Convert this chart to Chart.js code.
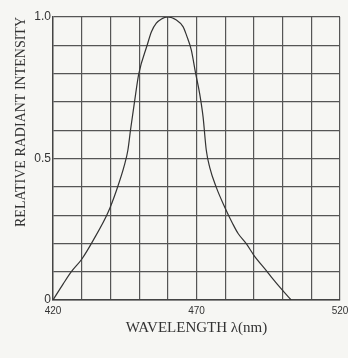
<!DOCTYPE html>
<html>
<head>
<meta charset="utf-8">
<script src="https://cdn.jsdelivr.net/npm/chart.js@4"></script>
<style>
  html, body { margin: 0; padding: 0; background: #f6f6f3; }
  canvas { display: block; }
</style>
</head>
<body>
<canvas id="grafica" width="348" height="358"></canvas>
<script>
// valores
const wavelengths = [420, 423.5, 426.4, 430, 433.9, 439.2, 442.1, 445, 446.1, 447, 448.4, 449.9, 452.8, 454.3, 456, 457.8, 460,
  463, 465.3, 466.5, 468.2, 469.6, 471.1, 472.3, 473.4, 474.6, 476.9, 479.8, 482.7, 484.5, 487.4, 490, 494.4, 496.1, 500, 503];
const intensity = [0, 0.056, 0.1, 0.144, 0.209, 0.31, 0.387, 0.481, 0.53, 0.6, 0.7, 0.8, 0.9, 0.948, 0.978, 0.993, 1.0,
  0.989, 0.966, 0.936, 0.883, 0.806, 0.729, 0.646, 0.53, 0.469, 0.398, 0.329, 0.268, 0.235, 0.198, 0.158, 0.103, 0.081, 0.034, 0];
const xTickLabels = [420, 470, 520];
const yTickLabels = { 0: '0', 0.5: '0.5', 1: '1.0' };

const fondo = {
  id: 'fondo',
  beforeDraw(chart) {
    const c = chart.ctx;
    c.save();
    c.fillStyle = '#f6f6f3';
    c.fillRect(0, 0, chart.width, chart.height);
    c.restore();
  }
};

const puntos = wavelengths.map((w, i) => ({ x: w, y: intensity[i] }));

new Chart(document.getElementById('grafica'), {
  type: 'line',
  data: {
    datasets: [{
      data: puntos,
      borderColor: '#333',
      borderWidth: 1.2,
      pointRadius: 0,
      cubicInterpolationMode: 'monotone',
      fill: false
    }]
  },
  options: {
    responsive: false,
    animation: false,
    layout: { padding: { top: 17, left: 0, right: 0, bottom: 0 } },
    plugins: { legend: { display: false }, tooltip: { enabled: false } },
    scales: {
      x: {
        type: 'linear',
        min: 420,
        max: 520,
        afterFit(scale) {
          scale.height = 58;
          scale.paddingRight = 8;
        },
        grid: { color: '#555', lineWidth: 1.2, drawTicks: false },
        border: { color: '#444', width: 1.4 },
        ticks: {
          stepSize: 10,
          padding: 5,
          maxRotation: 0,
          autoSkip: false,
          color: '#333',
          font: { family: 'Liberation Sans', size: 10 },
          callback: v => xTickLabels.includes(v) ? String(v) : ''
        },
        title: {
          display: true,
          text: 'WAVELENGTH λ(nm)',
          color: '#333',
          font: { family: 'Liberation Serif', size: 15 },
          padding: { top: 4, bottom: 21 }
        }
      },
      y: {
        min: 0,
        max: 1,
        afterFit(scale) { scale.width = 53; },
        grid: { color: '#555', lineWidth: 1.2, drawTicks: false },
        border: { color: '#444', width: 1.4 },
        ticks: {
          stepSize: 0.1,
          padding: 2,
          color: '#333',
          font: { family: 'Liberation Sans', size: 12 },
          callback: v => {
            const k = Math.round(v * 10) / 10;
            return yTickLabels[k] !== undefined ? yTickLabels[k] : '';
          }
        },
        title: {
          display: true,
          text: 'RELATIVE RADIANT INTENSITY',
          align: 'end',
          color: '#333',
          font: { family: 'Liberation Serif', size: 14 },
          padding: { top: 13, bottom: 0 }
        }
      }
    }
  },
  plugins: [fondo]
});
</script>
</body>
</html>
